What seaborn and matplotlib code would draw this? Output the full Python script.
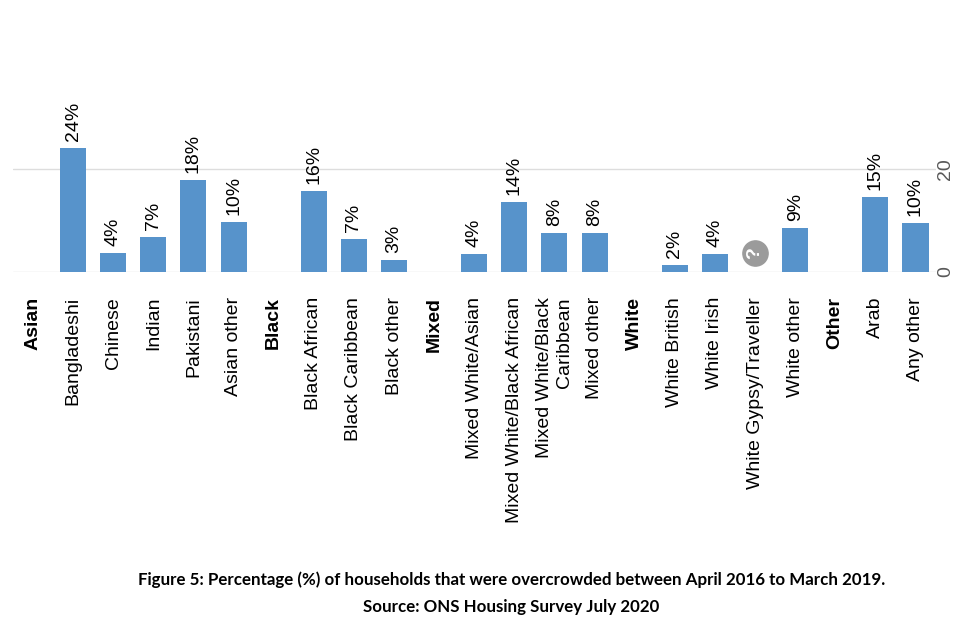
import numpy as np
import pandas as pd
import seaborn as sns
import matplotlib.pyplot as plt

# categories in chart order (group headings included as empty slots)
categories = ["Asian", "Bangladeshi", "Chinese", "Indian", "Pakistani", "Asian other",
              "Black", "Black African", "Black Caribbean", "Black other",
              "Mixed", "Mixed White/Asian", "Mixed White/Black African",
              "Mixed White/Black\nCaribbean", "Mixed other",
              "White", "White British", "White Irish", "White Gypsy/Traveller", "White other",
              "Other", "Arab", "Any other"]
headers = ["Asian", "Black", "Mixed", "White", "Other"]
values = [0, 24.1, 3.7, 6.8, 17.9, 9.7,
          0, 15.7, 6.5, 2.4,
          0, 3.5, 13.7, 7.6, 7.6,
          0, 1.4, 3.5, 0, 8.6,
          0, 14.6, 9.6]
bar_labels = ["", "24%", "4%", "7%", "18%", "10%",
              "", "16%", "7%", "3%",
              "", "4%", "14%", "8%", "8%",
              "", "2%", "4%", "", "9%",
              "", "15%", "10%"]
suppressed = ["White Gypsy/Traveller"]   # value not shown, marked with "?"
suppressed_y = 3.7
yticks = [0, 20]

df = pd.DataFrame({"group": categories, "pct": values})

sns.set_theme(style="white")
plt.rcParams['font.family'] = ['Liberation Sans', 'DejaVu Sans']
plt.rcParams['text.color'] = 'black'
plt.rcParams['xtick.color'] = 'black'

fig = plt.figure(figsize=(9.6, 6.4), dpi=100)
ax = fig.add_axes([0.0135, 0.575, 0.961, 0.241])

sns.barplot(data=df, x="group", y="pct", order=categories, color="#5793CB",
            saturation=1, width=0.65, linewidth=0, ax=ax)

for i, (v, lab) in enumerate(zip(values, bar_labels)):
    if lab:
        ax.annotate(lab, (i, v), xytext=(0, 5), textcoords="offset points",
                    rotation=90, ha="center", va="bottom", fontsize=14,
                    color="black", annotation_clip=False)

for name in suppressed:
    i = categories.index(name)
    ax.scatter([i], [suppressed_y], s=330, color="#9B9B9B", zorder=5, clip_on=False)
    ax.text(i, suppressed_y, "?", rotation=90, ha="center", va="center",
            fontsize=14, fontweight="bold", color="white", zorder=6)

ax.set_xlim(-0.5, len(categories) - 0.5)
ax.set_ylim(0, 30)
ax.set_yticks(yticks)
ax.yaxis.tick_right()
ax.tick_params(axis="y", length=0, pad=1, labelsize=14, labelcolor="#595959")
for t in ax.get_yticklabels():
    t.set_rotation(90)
    t.set_va("center")
ax.grid(axis="y", color="#DDDDDD", linewidth=1)
ax.set_axisbelow(True)
for s in ax.spines.values():
    s.set_visible(False)

ax.set_xlabel("")
ax.set_ylabel("")
ax.tick_params(axis="x", length=0, pad=18, labelsize=14, labelcolor="black")
ax.set_xticks(range(len(categories)))
ax.set_xticklabels(categories, rotation=90, ha="center", va="top", ma="right")
for t in ax.get_xticklabels():
    if t.get_text() in headers:
        t.set_fontweight("bold")

fig.text(0.533, 0.094, "Figure 5: Percentage (%) of households that were overcrowded between April 2016 to March 2019.",
         ha="center", va="center", fontsize=12.2, fontweight="bold", color="black",
         family=["Lato", "DejaVu Sans"])
fig.text(0.533, 0.051, "Source: ONS Housing Survey July 2020",
         ha="center", va="center", fontsize=12.2, fontweight="bold", color="black",
         family=["Lato", "DejaVu Sans"])

fig.savefig("out.png", dpi=100)
